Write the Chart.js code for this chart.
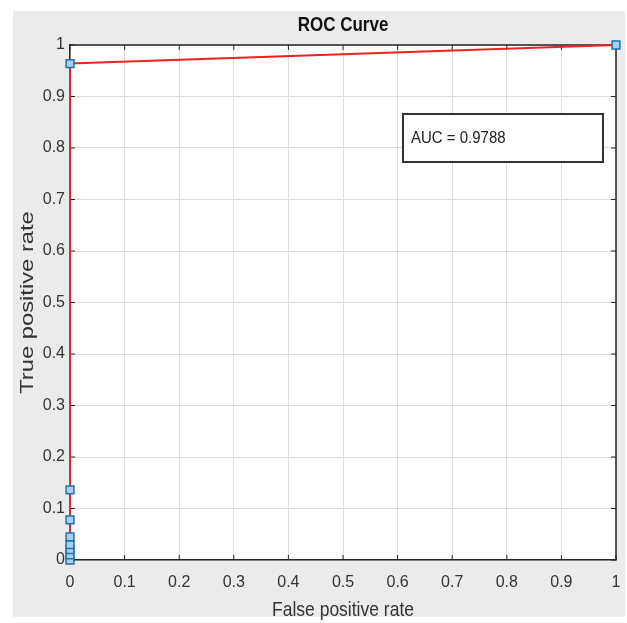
<!DOCTYPE html>
<html>
<head>
<meta charset="utf-8">
<script src="https://cdn.jsdelivr.net/npm/chart.js@4/dist/chart.umd.min.js"></script>
<style>
html,body{margin:0;padding:0;background:#fff;}
canvas{display:block;}
</style>
</head>
<body>
<canvas id="c" width="627" height="623"></canvas>
<script>
// Data
const fpr = [0, 0, 0, 0, 0, 0, 0, 0, 1];
const tpr = [0, 0.01, 0.02, 0.03, 0.045, 0.078, 0.136, 0.964, 1];
const tickValues = [0, 0.1, 0.2, 0.3, 0.4, 0.5, 0.6, 0.7, 0.8, 0.9, 1];
const chartTitle = 'ROC Curve';
const xTitle = 'False positive rate';
const yTitle = 'True positive rate';
const aucLabel = 'AUC = 0.9788';

const FONT = "'Liberation Sans', Arial, sans-serif";

function stretchedText(ctx, text, x, y, font, sx, sy, rot) {
  ctx.save();
  ctx.translate(x, y);
  if (rot) ctx.rotate(rot);
  ctx.scale(sx, sy);
  ctx.font = font;
  ctx.textAlign = 'center';
  ctx.textBaseline = 'middle';
  ctx.fillText(text, 0, 0);
  ctx.restore();
}

const bgPlugin = {
  id: 'bg',
  beforeDraw(chart) {
    const ctx = chart.ctx;
    ctx.save();
    ctx.fillStyle = '#ffffff';
    ctx.fillRect(0, 0, chart.width, chart.height);
    ctx.fillStyle = '#ebebeb';
    ctx.fillRect(13, 11, 612, 606);
    const a = chart.chartArea;
    ctx.fillStyle = '#ffffff';
    ctx.fillRect(a.left, a.top, a.right - a.left, a.bottom - a.top);
    ctx.restore();
  },
  beforeDatasetsDraw(chart) {
    const ctx = chart.ctx;
    const a = chart.chartArea;
    const xs = chart.scales.x, ys = chart.scales.y;
    ctx.save();
    ctx.strokeStyle = '#262626';
    ctx.lineWidth = 1.5;
    ctx.beginPath();
    ctx.moveTo(a.left, a.top); ctx.lineTo(a.right, a.top);
    ctx.moveTo(a.right, a.top); ctx.lineTo(a.right, a.bottom);
    ctx.stroke();
    ctx.lineWidth = 1;
    const L = 5;
    ctx.beginPath();
    tickValues.forEach(v => {
      const px = xs.getPixelForValue(v);
      ctx.moveTo(px, a.bottom); ctx.lineTo(px, a.bottom - L);
      ctx.moveTo(px, a.top); ctx.lineTo(px, a.top + L);
      const py = ys.getPixelForValue(v);
      ctx.moveTo(a.left, py); ctx.lineTo(a.left + L, py);
      ctx.moveTo(a.right, py); ctx.lineTo(a.right - L, py);
    });
    ctx.stroke();
    ctx.restore();
  },
  afterDatasetsDraw(chart) {
    const ctx = chart.ctx;
    const a = chart.chartArea;
    ctx.save();
    // AUC annotation box
    ctx.fillStyle = '#ffffff';
    ctx.fillRect(403, 114, 200, 48);
    ctx.strokeStyle = '#333333';
    ctx.lineWidth = 2;
    ctx.strokeRect(403, 114, 200, 48);
    ctx.fillStyle = '#222222';
    ctx.save();
    ctx.translate(411, 138);
    ctx.scale(1, 1.15);
    ctx.font = '15px ' + FONT;
    ctx.textBaseline = 'middle';
    ctx.textAlign = 'left';
    ctx.fillText(aucLabel, 0, 0);
    ctx.restore();
    // titles
    const cx = (a.left + a.right) / 2, cy = (a.top + a.bottom) / 2;
    ctx.fillStyle = '#111111';
    stretchedText(ctx, chartTitle, cx, 25, 'bold 17px ' + FONT, 1, 1.2, 0);
    ctx.fillStyle = '#333333';
    stretchedText(ctx, xTitle, cx, 610, '17.5px ' + FONT, 1, 1.2, 0);
    stretchedText(ctx, yTitle, 28, cy, '18px ' + FONT, 1.32, 1, -Math.PI / 2);
    ctx.restore();
  }
};

new Chart(document.getElementById('c'), {
  type: 'scatter',
  data: {
    datasets: [{
      data: fpr.map((x, i) => ({x: x, y: tpr[i]})),
      showLine: true,
      borderColor: '#ee2222',
      borderWidth: 2,
      pointStyle: 'rect',
      pointRadius: 5.5,
      pointBorderWidth: 1.5,
      pointBorderColor: '#1f6fb5',
      pointBackgroundColor: '#a9d0f0',
      clip: false
    }]
  },
  options: {
    responsive: false,
    devicePixelRatio: 1,
    animation: false,
    layout: {padding: {left: 0, right: 11, top: 45, bottom: 0}},
    plugins: {
      legend: {display: false},
      tooltip: {enabled: false},
      title: {display: false}
    },
    scales: {
      x: {
        type: 'linear', min: 0, max: 1,
        afterBuildTicks: s => { s.ticks = tickValues.map(v => ({value: v})); },
        afterFit: s => { s.height = 63; s.paddingLeft = 0; s.paddingRight = 0; },
        ticks: {padding: 13, color: '#333333', font: {family: FONT, size: 16}, maxRotation: 0,
                callback: v => String(v)},
        grid: {color: '#dcdcdc', drawTicks: false},
        border: {color: '#262626', width: 1.5},
        title: {display: false, text: xTitle}
      },
      y: {
        type: 'linear', min: 0, max: 1,
        afterBuildTicks: s => { s.ticks = tickValues.map(v => ({value: v})); },
        afterFit: s => { s.width = 70; s.paddingTop = 0; s.paddingBottom = 0; },
        ticks: {padding: 5, color: '#333333', font: {family: FONT, size: 16},
                callback: v => String(v)},
        grid: {color: '#dcdcdc', drawTicks: false},
        border: {color: '#262626', width: 1.5},
        title: {display: false, text: yTitle}
      }
    }
  },
  plugins: [bgPlugin]
});
</script>
</body>
</html>
